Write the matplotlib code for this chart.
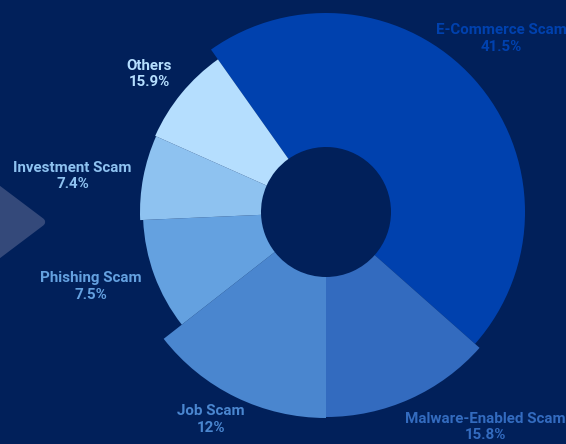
import numpy as np
import matplotlib
matplotlib.use("Agg")
import matplotlib.pyplot as plt
from matplotlib.patches import Polygon

W, H = 566, 444
BG = "#01205a"

labels = ["E-Commerce Scam", "Malware-Enabled Scam", "Job Scam",
          "Phishing Scam", "Investment Scam", "Others"]
shares = [41.5, 15.8, 12, 7.5, 7.4, 15.9]
# slice spans (deg, clockwise) and outer radii (px)
spans = [166.8, 48.5, 52.0, 35.5, 26.5, 30.7]
radii = [199, 205, 206, 183, 186, 187]
colors = ["#0041ae", "#336bbf", "#4a86cf", "#64a1e0", "#8ec2f0", "#b5defe"]
start = -35.3
hole = 65

# label centres in pixels (x, y of the name line, from top-left)
label_pos = [(501, 30.5), (485, 418.5), (211, 411), (91, 278), (72.5, 167.5), (149.5, 66)]

fig = plt.figure(figsize=(W / 100, H / 100), dpi=100, facecolor=BG)

# decorative arrow on the left edge
arrow = Polygon([(-20 / W, 1 - 176 / H), (41 / W, 1 - 222 / H), (-20 / W, 1 - 268 / H)],
                closed=True, transform=fig.transFigure, facecolor="#34497a",
                edgecolor="#34497a", linewidth=6, joinstyle="round")
fig.patches.append(arrow)

cx, cy, R = 326, 212, 220
ax = fig.add_axes([(cx - R) / W, (H - cy - R) / H, 2 * R / W, 2 * R / H], projection="polar")
ax.set_theta_zero_location("N")
ax.set_theta_direction(-1)

edges = start + np.concatenate([[0], np.cumsum(spans)[:-1]])
ax.bar(np.deg2rad(edges), np.array(radii) - hole, width=np.deg2rad(spans), bottom=hole,
       align="edge", color=colors, linewidth=0)
ax.set_rlim(0, R)
ax.set_axis_off()

font = dict(family=["Roboto", "DejaVu Sans"], fontweight="bold", fontsize=10.9,
            ha="center", va="center")
for name, val, c, (x, y) in zip(labels, shares, colors, label_pos):
    fig.text(x / W, 1 - y / H, name, color=c, **font)
    fig.text(x / W, 1 - (y + 16.5) / H, f"{val:g}%", color=c, **font)

fig.savefig("out.png", dpi=100, facecolor=BG)
